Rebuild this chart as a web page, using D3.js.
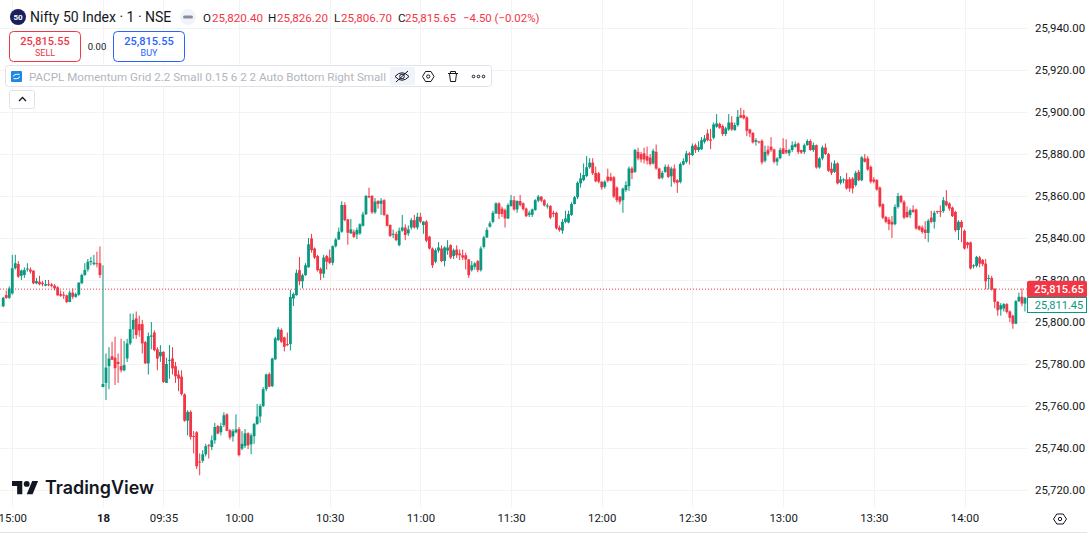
<!DOCTYPE html>
<html><head><meta charset="utf-8">
<script src="https://cdn.jsdelivr.net/npm/d3@7/dist/d3.min.js"></script>
<style>
html,body{margin:0;padding:0;background:#fff;overflow:hidden}
text{font-family:Roboto,Arial,sans-serif;fill:#131722}
</style></head><body>
<div id="chart"></div>
<script>
// Header values
const symbolTitle = "Nifty 50 Index · 1 · NSE";
const ohlcHeader = [["O","25,820.40"],["H","25,826.20"],["L","25,806.70"],["C","25,815.65"]];
const changeText = "−4.50 (−0.02%)";
const indicatorText = "PACPL Momentum Grid 2.2 Small 0.15 6 2 2 Auto Bottom Right Small";
const sellPrice = "25,815.55", buyPrice = "25,815.55", spreadText = "0.00";
const lastSeriesPrice = 25815.65, lastBarLabel = "25,811.45";

// Price axis
const priceTicks = [25940,25920,25900,25880,25860,25840,25820,25800,25780,25760,25740,25720];
// Time axis: bar index and label (index 0 = 14:57 previous session, index 33 = 09:15)
const timeTickIndex  = [3,33,53,78,108,138,168,198,228,258,288,318];
const timeTickLabels = ["15:00","18","09:35","10:00","10:30","11:00","11:30","12:00","12:30","13:00","13:30","14:00"];

// 1-minute candles, one row per 30 minutes after the 33 bars of the previous session
const opens = [
25807.5,25812.8,25811.5,25813.6,25825.6,25827.6,25822,25822.4,25825,25825,25824.5,25818.4,25819.2,25818.7,25817.3,25818,25817.9,25817.3,25816.5,25813.3,25813,25812.7,25809.5,25814,25812,25813,25818.5,25822.4,25825,25828.7,25827.5,25828,25828,
25769,25771,25779,25783.7,25783,25781,25779,25777,25782.6,25789.8,25796.5,25801.7,25799,25799,25790.4,25780.3,25793,25795,25787,25783.7,25785.8,25771,25781.5,25782.7,25779,25775,25774,25765.5,25753,25757.2,
25745.7,25747.5,25733.5,25733.9,25737,25741.3,25740.5,25743.7,25750.4,25747.5,25750.9,25756,25748.5,25745.5,25747.5,25749,25739.7,25741,25747,25741.8,25745.6,25751.4,25755,25760,25768,25775.2,25769.5,25782.2,25791.4,25796.2,
25792.7,25789.5,25789.5,25811.2,25812.8,25824.7,25819.4,25822.3,25826,25839.8,25835,25831.4,25825.3,25823,25831.4,25830.7,25828.2,25836.1,25839.3,25843,25855.7,25848.9,25842.2,25843,25841.7,25842.2,25845.8,25851.3,25860,25860,
25852.2,25857.6,25856.3,25858,25851,25846.2,25841.5,25841.9,25836.6,25843.5,25845,25842.2,25845,25848.5,25845,25850.1,25846.2,25847.8,25840.6,25835,25828.7,25834,25835,25829,25834,25836.6,25831.4,25834.5,25832.6,25831.8,
25831.8,25829.8,25824.7,25826.3,25829,25824.7,25835.8,25840.3,25845.4,25847.7,25851.7,25856.5,25854,25853.3,25849.3,25855.2,25858,25853.6,25857.6,25856.5,25854,25851,25851,25853.3,25857.8,25859.7,25858,25855,25855.2,25852,
25852,25845,25843.5,25847.7,25847.4,25851,25856.2,25859.4,25866,25867.6,25869.5,25873.7,25875.9,25871,25870.8,25866.8,25864.4,25869.2,25869,25868.9,25864,25859.7,25858,25862.8,25864.7,25873.1,25871.5,25881,25880,25880.3,
25879,25878.3,25875.5,25881,25873.1,25868.7,25871.5,25873.9,25869.4,25873.1,25867.5,25866.7,25875,25876.3,25880.3,25879.5,25884.2,25881.9,25882.2,25885.8,25889.8,25886.9,25887.7,25893,25894.3,25893.3,25889.5,25891.7,25895,25891.4,
25893.8,25898.5,25898.5,25897.4,25891.7,25890,25885.8,25886,25886.3,25876.8,25882,25883.5,25882.2,25876.3,25878,25882.7,25881.9,25880.3,25881.9,25883.4,25885,25881.9,25881,25884.2,25886.2,25881.9,25884.2,25873.6,25877.9,25883.1,
25880,25873,25871.5,25875.5,25866.3,25867.4,25867.9,25868,25868.3,25865.2,25871.5,25867.5,25877.9,25877.9,25873.9,25867.9,25867.6,25864,25856.1,25850,25848.8,25847.7,25846.6,25854.8,25860,25857.2,25852.4,25850.9,25853.5,25853.5,
25845.6,25845,25844,25842.4,25849.7,25847.7,25852.8,25852.8,25852.8,25857.5,25856.4,25854.5,25852.4,25843.8,25847.7,25843.4,25837.9,25837.9,25826.5,25826.7,25830.7,25829.5,25827.8,25820.5,25821,25815.9,25809.6,25806,25806.4,25808.5,
25805,25803,25799.2,25809.9,25812,25808.8];
const highs = [
25812,25815,25817,25832,25832,25829,25825,25826,25828,25826,25824.5,25821,25822,25819.5,25820,25820,25818.5,25818,25817,25815,25814.5,25813,25815,25816,25814,25819,25823,25828,25830,25831,25832,25833.5,25836,
25827,25785,25788,25790.6,25793,25785,25792,25791,25792,25804,25804,25805,25803,25801,25791,25795,25800,25796,25788,25789,25786,25783,25789,25788,25781,25777,25777,25766,25758,25758,
25748,25748,25737.4,25739,25742,25742,25746,25752,25751,25752,25757,25756.5,25749,25749,25756,25750,25748,25749,25747.5,25747,25752,25761,25761,25769,25775.5,25776,25783,25793,25797.5,25797,
25793,25795,25815.4,25814,25825,25831,25823,25828,25840,25842,25835.5,25832,25826,25832,25832,25834.5,25836.5,25840,25845,25857.5,25857,25849,25849,25844,25845,25847,25852.5,25860.5,25864,25860.5,
25859,25858,25859,25858.5,25851.5,25846.5,25844,25843,25845,25851,25846.5,25846,25849.5,25851,25852,25852,25848,25848.5,25841,25835.5,25835,25838,25836.5,25836,25839,25837,25835,25836.5,25834.5,25834.5,
25833,25830,25829,25828.5,25829.5,25836,25841,25845,25848,25853,25857,25857,25855,25854,25856.5,25860.5,25860,25858,25860.5,25857,25854.5,25853,25854,25858.5,25860.5,25860,25858.5,25856.5,25855.7,25853,
25852.5,25846,25849,25853,25853,25857,25860,25867,25871,25875.5,25879,25878,25878,25874,25871.5,25867,25867.5,25873,25871,25869.5,25864.5,25860,25864,25867,25874,25874,25882.5,25883,25881,25883,
25883.5,25880,25882.5,25884.5,25873.5,25872,25875,25875,25874,25875,25868,25876,25878,25881.5,25881,25885,25885,25886,25888,25889,25891.7,25892,25895,25899,25895,25894,25893,25899,25898,25895,
25901,25902,25901,25898,25892,25890.5,25887.5,25886.2,25887,25884,25884,25888,25882.5,25878.5,25883,25887.5,25887,25882.5,25886,25886,25885.5,25882,25885,25887,25887,25885.5,25884.5,25878.5,25884,25885,
25880.5,25876,25877,25876,25869.5,25868.5,25871,25869,25869,25872,25872.5,25879,25880,25879,25874.5,25869,25868,25864.5,25856.5,25850.5,25850,25850.5,25856,25861.5,25860.5,25858,25855,25854,25855.6,25854,
25846,25846,25848,25849,25853,25853,25853,25855.5,25859.5,25862.8,25857,25855,25853,25848.5,25848.5,25844,25838.2,25838.3,25827.5,25831.5,25831.5,25830,25830,25822.5,25822,25816,25810,25809,25809,25809,
25805.5,25803.5,25810.5,25814,25816,25812];
const lows = [
25807,25811,25811,25813,25825,25821,25820,25821,25824,25823,25818,25818,25817.5,25817,25817,25817,25816.5,25815,25812.5,25812,25811,25809,25809.5,25811,25811.5,25812.5,25818,25822,25824,25827,25827,25826,25821,
25769,25762.8,25768,25782,25770,25771,25776,25776.5,25781,25789,25792,25792,25793,25785,25780,25775,25787,25786,25777,25781,25771,25771,25773,25775,25771,25767,25765,25752.5,25746,25744,
25737.4,25730,25727,25733,25736,25735,25739,25742,25746.5,25746,25750,25748,25744,25743,25747,25736,25739,25740,25739.5,25737,25742,25751,25752,25759.5,25767,25769,25769,25782,25791,25790,
25786,25788.5,25786.5,25807.6,25812.5,25817.5,25816,25822,25826,25833,25830,25824,25820,25821,25825,25827.5,25827,25835.5,25839,25842.5,25848,25836.8,25842,25840,25839.5,25841.5,25845.5,25851,25859,25851.5,
25851.5,25854,25851,25850.5,25845.5,25840.5,25840,25838.5,25836,25843,25839,25841,25844,25844.5,25844,25847,25842,25838,25834.5,25825.7,25828,25833,25828.5,25826.5,25832,25830,25830,25830.5,25829.5,25829.5,
25825,25821,25824,25825,25823.7,25824,25835,25840,25845,25847,25851.5,25849,25850,25845,25849,25855,25853,25852,25855,25853,25850,25850,25850,25853,25857,25857,25855,25854,25849,25850,
25844,25843,25842,25847,25847,25850.5,25856,25858.5,25864,25867,25869,25873,25870,25866.5,25866,25863,25863.5,25866.5,25867,25859,25857,25856,25852,25862,25862.4,25868,25871,25877,25876,25875.5,
25875,25874.5,25875,25872.5,25868,25868,25871,25868.5,25864.4,25866,25861.5,25866,25874.5,25875.5,25875,25879,25880.5,25881,25882,25885,25886,25882.3,25887,25892.5,25892,25888.5,25888.5,25891,25891,25891,
25893,25897,25896.5,25888.5,25888,25885,25884,25885,25875,25876,25879,25881,25875.5,25874.5,25877.5,25880,25880,25879,25881,25883,25880,25880,25880,25884,25881.5,25881,25873,25873,25877,25879.5,
25871.5,25870,25871,25865.5,25865.5,25866,25863,25862,25861.2,25864.5,25867,25867,25876,25872,25866,25866,25862.5,25854.5,25849,25847,25843.7,25840,25846,25854,25856.5,25849,25849.5,25849.5,25852,25844,
25843.5,25842,25839.5,25838,25847,25844.5,25851.5,25850,25852,25855,25853,25850,25843,25839,25838,25834.5,25835,25825,25825.5,25826,25826,25826.5,25815.5,25815.5,25815,25806.5,25803,25803,25805,25804,
25800,25796.8,25799,25809.5,25807.5,25805];
const closes = [
25811.5,25811.5,25816,25825.6,25828,25821.6,25824.5,25824.8,25825.5,25824,25818.4,25819.5,25818,25818,25818,25817.6,25817.2,25816,25812.7,25812.5,25812.8,25809.5,25814,25812,25813.3,25818.7,25822.4,25824.8,25828.7,25829,25828.3,25827.9,25822.4,
25770.5,25778.3,25782.6,25782,25778,25780,25777,25779.5,25789.8,25796.6,25801,25793.8,25796,25789.8,25780.3,25793.3,25793.6,25786.6,25782.6,25785.8,25771.5,25780,25782,25777.9,25774.2,25773,25765.7,25753,25757.2,25745.3,
25745.3,25731.3,25733.4,25737,25740.9,25741,25743.7,25750,25746.9,25750.4,25755.6,25748.2,25745,25748,25748.8,25736.6,25742,25747,25741.3,25746,25751.4,25755,25760,25768,25775,25769.2,25782.6,25792.2,25796.5,25790.6,
25788.2,25789,25811.9,25813.3,25823.4,25819.4,25822.3,25827,25837,25834.2,25830.7,25824.7,25823,25830.7,25828.7,25828.2,25836.1,25839.3,25843,25855.7,25848.5,25842.5,25844.1,25840.6,25843.8,25846.5,25851.3,25860,25859.4,25852.2,
25857.3,25856.2,25857.8,25851,25845.8,25841,25842,25839,25843.5,25845,25841.4,25844.1,25848.5,25845,25850.1,25847.8,25847.8,25838.7,25835,25827,25834.2,25835.5,25829,25835.5,25835.5,25830.7,25834.2,25831.8,25831.8,25830.7,
25829.8,25822.3,25827,25827.9,25824.7,25835,25840.3,25843.8,25847,25852,25856.5,25851.4,25851.4,25849.3,25855.7,25858,25853.6,25857.6,25855.7,25853.8,25850.4,25852,25853.6,25858,25859.7,25857.8,25855.5,25855.5,25849.7,25851.4,
25844.6,25843.8,25847.7,25849.3,25851.4,25856.2,25859.4,25866.3,25868.4,25870,25873.7,25875.9,25870.8,25867,25866.8,25864.1,25866.8,25867.3,25867.3,25859.7,25858,25857.3,25863.5,25865.2,25873.1,25871,25881.9,25877.9,25877.4,25877.4,
25876.8,25875.2,25881.5,25873.1,25868.3,25871,25873.9,25869.1,25873.1,25866.7,25866.3,25875.2,25876.6,25880.3,25879.5,25883.9,25881.9,25883.4,25886.6,25887.4,25886.6,25886.3,25894.1,25894.6,25892.5,25889.5,25892.2,25895,25891.7,25893.8,
25897.7,25897.3,25897,25891,25889.8,25885.5,25886.6,25885.8,25876,25881,25880,25881.9,25876.3,25877.9,25881.9,25880,25880.7,25881.9,25884.2,25884.7,25881,25880.7,25884.2,25886.2,25881.9,25884.2,25873.6,25877.9,25883.1,25880,
25872,25871,25875.5,25866,25867.9,25867.9,25863.6,25863.6,25863.6,25871,25867.5,25878.4,25876.3,25872.6,25866.8,25866.8,25863.1,25855.1,25849.7,25847.7,25846.6,25846.4,25854.8,25860,25857.2,25849.7,25850,25853.2,25852.4,25844.5,
25844,25842.9,25842.4,25848.2,25847.7,25852,25852.4,25852.4,25858,25855.6,25854,25850.4,25843.7,25847.7,25845,25835,25836.6,25825.5,25827,25831,25827.8,25827.5,25819.4,25821,25815.5,25809.6,25805.6,25808,25808.5,25804.8,
25802,25799.2,25809.9,25812,25808.8,25811.45];

const W=1087,H=535, paneR=1027, paneB=507;
const UP="#089981", DOWN="#F23645", GRID="#f3f3f3";
const fmt=d3.format(",.2f");

const svg=d3.select("#chart").append("svg").attr("width",W).attr("height",H).style("display","block");
const x=d3.scaleLinear().domain([78,318]).range([239,964.5]);
const y=d3.scaleLinear().domain([25720,25940]).range([490,28]);

// grid
svg.append("g").selectAll("line").data(priceTicks).join("line")
  .attr("x1",0).attr("x2",paneR).attr("y1",d=>Math.round(y(d))+.5).attr("y2",d=>Math.round(y(d))+.5).attr("stroke",GRID);
svg.append("g").selectAll("line").data(timeTickIndex).join("line")
  .attr("x1",d=>Math.round(x(d))+.5).attr("x2",d=>Math.round(x(d))+.5).attr("y1",0).attr("y2",paneB).attr("stroke",GRID);

// last price line
svg.append("line").attr("x1",0).attr("x2",paneR).attr("y1",y(lastSeriesPrice)).attr("y2",y(lastSeriesPrice))
  .attr("stroke",DOWN).attr("stroke-width",1).attr("stroke-dasharray","1 2");

// candles
const idx=d3.range(opens.length);
const col=i=>closes[i]>=opens[i]?UP:DOWN;
const g=svg.append("g");
g.selectAll("line.w").data(idx).join("line").attr("class","w")
  .attr("x1",i=>x(i)).attr("x2",i=>x(i)).attr("y1",i=>y(highs[i])).attr("y2",i=>y(lows[i]))
  .attr("stroke",col).attr("stroke-width",1);
g.selectAll("rect.b").data(idx).join("rect").attr("class","b")
  .attr("x",i=>x(i)-1.4).attr("width",2.8)
  .attr("y",i=>y(Math.max(opens[i],closes[i])))
  .attr("height",i=>Math.max(1,Math.abs(y(opens[i])-y(closes[i]))))
  .attr("fill",col);

// axes
const ay=svg.append("g").attr("transform",`translate(1029,0)`)
  .call(d3.axisRight(y).tickValues(priceTicks).tickFormat(fmt).tickSize(0).tickPadding(6));
ay.select(".domain").remove();
ay.selectAll("text").attr("font-size",11.4).style("font-family","Roboto,Arial,sans-serif").attr("fill","#131722");
const ax=svg.append("g").attr("transform",`translate(0,${513})`)
  .call(d3.axisBottom(x).tickValues(timeTickIndex).tickFormat((d,i)=>timeTickLabels[i]).tickSize(0).tickPadding(1));
ax.select(".domain").remove();
ax.selectAll("text").attr("font-size",11.4).style("font-family","Roboto,Arial,sans-serif").attr("fill","#131722")
  .attr("font-weight",(d,i)=>timeTickLabels[i]==="18"?700:400);
svg.append("line").attr("x1",0).attr("x2",W).attr("y1",532.5).attr("y2",532.5).attr("stroke","#e0e3eb");

// price labels
svg.append("rect").attr("x",1027).attr("y",y(lastSeriesPrice)-8.5).attr("width",60).attr("height",17).attr("rx",2).attr("fill",DOWN);
svg.append("text").attr("x",1059).attr("y",y(lastSeriesPrice)+4.2).attr("text-anchor","middle").attr("font-size",11).attr("font-weight",500).style("fill","#fff").text(fmt(lastSeriesPrice));
svg.append("rect").attr("x",1027.5).attr("y",297.5).attr("width",59).attr("height",15).attr("fill","#fff").attr("stroke",UP);
svg.append("text").attr("x",1059).attr("y",309).attr("text-anchor","middle").attr("font-size",11).style("fill",UP).text(lastBarLabel);

// settings icon bottom right
const gear=svg.append("g").attr("transform","translate(1060,519)").attr("fill","none").attr("stroke","#131722").attr("stroke-width",1);
gear.append("path").attr("d","M-6.5 0L-3.2-5H3.2L6.5 0L3.2 5H-3.2Z");
gear.append("circle").attr("r",1.7);

// header
svg.append("circle").attr("cx",18).attr("cy",17).attr("r",8).attr("fill","#1c1f5e");
svg.append("text").attr("x",18).attr("y",20).attr("text-anchor","middle").attr("font-size",8).attr("font-weight",700).style("fill","#fff").text("50");
svg.append("text").attr("x",30).attr("y",22).attr("font-size",14).text(symbolTitle);
svg.append("circle").attr("cx",188).attr("cy",17).attr("r",8).attr("fill","#f0f3fa");
svg.append("rect").attr("x",183).attr("y",15.5).attr("width",10).attr("height",3).attr("rx",1.5).attr("fill","#8a8e99");
const ohlcX=[[203,212],[268,277],[334,341],[398,405]];
ohlcHeader.forEach((d,i)=>{
  svg.append("text").attr("x",ohlcX[i][0]).attr("y",21.5).attr("font-size",11.6).text(d[0]);
  svg.append("text").attr("x",ohlcX[i][1]).attr("y",21.5).attr("font-size",11.6).style("fill",DOWN).text(d[1]);
});
svg.append("text").attr("x",463).attr("y",21.5).attr("font-size",11.4).style("fill",DOWN).text(changeText);

// sell / buy
const box=(x0,c,p,l)=>{
  svg.append("rect").attr("x",x0+.5).attr("y",31.5).attr("width",71).attr("height",30).attr("rx",4).attr("fill","#fff").attr("stroke",c);
  svg.append("text").attr("x",x0+36).attr("y",44.5).attr("text-anchor","middle").attr("font-size",11).attr("font-weight",500).style("fill",c).text(p);
  svg.append("text").attr("x",x0+36).attr("y",55.5).attr("text-anchor","middle").attr("font-size",9).style("fill",c).text(l);
};
box(9,DOWN,sellPrice,"SELL");
box(113,"#2962FF",buyPrice,"BUY");
svg.append("text").attr("x",97).attr("y",49.5).attr("text-anchor","middle").attr("font-size",9.5).text(spreadText);

// indicator row
svg.append("rect").attr("x",5.5).attr("y",65.5).attr("width",486).attr("height",21).attr("rx",3).attr("fill","#fff").attr("fill-opacity",.8).attr("stroke","#e0e3eb");
svg.append("rect").attr("x",11).attr("y",71).attr("width",11).attr("height",11).attr("rx",1).attr("fill","#1e88e5");
svg.append("path").attr("d","M13.5 76.5a3 2.2 0 0 1 3-2.2h3M19.5 76.5a3 2.2 0 0 1-3 2.2h-3").attr("fill","none").attr("stroke","#fff").attr("stroke-width",1);
svg.append("text").attr("x",29).attr("y",80.5).attr("font-size",11.6).attr("textLength",357).attr("lengthAdjust","spacingAndGlyphs").style("fill","#b2b5be").text(indicatorText);
svg.append("rect").attr("x",390).attr("y",67).attr("width",25).attr("height",18).attr("rx",2).attr("fill","#f0f3fa");
const ic=svg.append("g").attr("fill","none").attr("stroke","#131722").attr("stroke-width",1);
ic.append("path").attr("d","M395 76.5q7-7.5 14 0q-7 7.5-14 0z");
ic.append("circle").attr("cx",402).attr("cy",76.5).attr("r",2.3);
ic.append("path").attr("d","M396 82L408 71");
ic.append("path").attr("d","M422.5 76.5L425.5 71.5H431L434 76.5L431 81.5H425.5Z");
ic.append("circle").attr("cx",428.2).attr("cy",76.5).attr("r",1.6);
ic.append("path").attr("d","M448 73.5H458M450.5 73.5V71.5H455.5V73.5M449.5 73.5L450.5 81.5H455.5L456.5 73.5");
[473.5,478.5,483.5].forEach(cx=>ic.append("circle").attr("cx",cx).attr("cy",76.5).attr("r",1.3));

// collapse button
svg.append("rect").attr("x",9.5).attr("y",90.5).attr("width",25).attr("height",18).attr("rx",2).attr("fill","#fff").attr("stroke","#e0e3eb");
svg.append("path").attr("d","M19 101L22.5 97.5L26 101").attr("fill","none").attr("stroke","#131722").attr("stroke-width",1.3);

// logo
const logo=svg.append("g").attr("transform","translate(12,478) scale(.735)").attr("fill","#131722");
logo.append("path").attr("d","M14 22H7V11H0V4h14v18zM28 22h-8l7.5-18h8L28 22z");
logo.append("circle").attr("cx",20).attr("cy",8).attr("r",4);
svg.append("text").attr("x",45).attr("y",494).attr("font-size",18).attr("font-weight",600).style("font-family","Inter,Roboto,sans-serif").attr("textLength",109).attr("lengthAdjust","spacingAndGlyphs").text("TradingView");
</script>
</body></html>
